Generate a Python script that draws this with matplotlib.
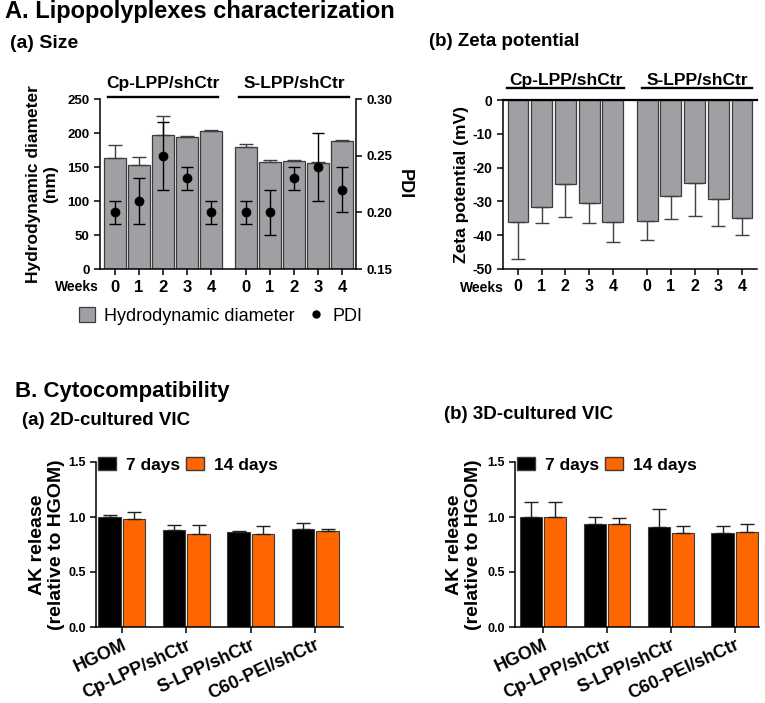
import numpy as np
import matplotlib
matplotlib.use('Agg')
import matplotlib.pyplot as plt
import matplotlib.transforms as mtransforms
from matplotlib.patches import Patch
from matplotlib.lines import Line2D
from matplotlib.ticker import FormatStrFormatter

plt.rcParams['font.family'] = ['Liberation Sans', 'DejaVu Sans']
plt.rcParams['axes.unicode_minus'] = False
plt.rcParams['axes.linewidth'] = 1.1
plt.rcParams['xtick.major.width'] = 1.1
plt.rcParams['ytick.major.width'] = 1.1
plt.rcParams['xtick.major.size'] = 4
plt.rcParams['ytick.major.size'] = 4

# ---------------- data
weeks = ['0', '1', '2', '3', '4']
groups = ['Cp-LPP/shCtr', 'S-LPP/shCtr']

# hydrodynamic diameter (nm), mean and SD
size_cp = [163, 153, 197, 194, 203]
size_cp_sd = [19, 12, 28, 2, 2]
size_s = [180, 158, 159, 156, 188]
size_s_sd = [4, 2, 2, 1, 2]

# PDI
pdi_cp = [0.20, 0.21, 0.25, 0.23, 0.20]
pdi_cp_sd = [0.01, 0.02, 0.03, 0.01, 0.01]
pdi_s = [0.20, 0.20, 0.23, 0.24, 0.22]
pdi_s_sd = [0.01, 0.02, 0.01, 0.03, 0.02]

# zeta potential (mV)
zeta_cp = [-36.2, -31.8, -24.9, -30.5, -36.1]
zeta_cp_sd = [10.9, 4.7, 9.7, 6.0, 5.8]
zeta_s = [-35.9, -28.5, -24.6, -29.4, -34.9]
zeta_s_sd = [5.4, 6.8, 9.8, 7.9, 4.9]

# AK release relative to HGOM
treatments = ['HGOM', 'Cp-LPP/shCtr', 'S-LPP/shCtr', 'C60-PEI/shCtr']
ak2d_7 = [1.00, 0.88, 0.865, 0.895]
ak2d_7_sd = [0.02, 0.05, 0.01, 0.05]
ak2d_14 = [0.985, 0.85, 0.85, 0.87]
ak2d_14_sd = [0.065, 0.08, 0.065, 0.025]
ak3d_7 = [1.00, 0.935, 0.905, 0.855]
ak3d_7_sd = [0.135, 0.065, 0.17, 0.065]
ak3d_14 = [1.00, 0.94, 0.855, 0.86]
ak3d_14_sd = [0.135, 0.055, 0.065, 0.075]

GRAY = '#a0a0a4'
EDGE = '#3c3c3c'
ORANGE = '#ff6600'

W, H = 765, 703
fig = plt.figure(figsize=(W / 100, H / 100), dpi=100)


def px_axes(x0, y0, x1, y1):
    return fig.add_axes([x0 / W, 1 - y1 / H, (x1 - x0) / W, (y1 - y0) / H])


def title(x, y, s, size):
    fig.text(x / W, 1 - y / H, s, fontsize=size, fontweight='bold', ha='left', va='baseline')


def group_label(ax, x0, x1, yl, yt, s):
    tr = mtransforms.blended_transform_factory(ax.transData, ax.transAxes)
    ax.plot([x0, x1], [yl, yl], color='black', lw=1.7, transform=tr, clip_on=False)
    ax.text((x0 + x1) / 2, yt, s, transform=tr, ha='center', va='center',
            fontsize=12.5, fontweight='bold')


def bold_ticks(ax, xs, ys):
    for lab in ax.get_xticklabels():
        lab.set_fontweight('bold')
        lab.set_fontsize(xs)
    for lab in ax.get_yticklabels():
        lab.set_fontweight('bold')
        lab.set_fontsize(ys)


title(5, 18, 'A. Lipopolyplexes characterization', 17)
title(10, 47.5, '(a) Size', 14)
title(429, 46.5, '(b) Zeta potential', 13.5)
title(15, 396.5, 'B. Cytocompatibility', 16)
title(22, 425, '(a) 2D-cultured VIC', 13.5)
title(444, 419, '(b) 3D-cultured VIC', 13.5)

xpos = np.r_[np.arange(5), np.arange(5) + 5.45]
n = len(xpos)

# ---------------- A(a) size + PDI
ax1 = px_axes(100, 99, 356, 269)
size = np.r_[size_cp, size_s]
size_sd = np.r_[size_cp_sd, size_s_sd]
ax1.bar(xpos, size, width=0.9, color=GRAY, edgecolor=EDGE, linewidth=0.9,
        yerr=[np.zeros(n), size_sd], capsize=5,
        error_kw=dict(ecolor='#404040', elinewidth=1.0, capthick=1.0))
ax1.set_xlim(-0.625, 10.03)
ax1.set_ylim(0, 250)
ax1.set_yticks(range(0, 251, 50))
ax1.set_xticks(xpos)
ax1.set_xticklabels(weeks * 2)
ax1.tick_params(axis='x', pad=4)
ax1.spines['top'].set_visible(False)
ax1.spines['right'].set_visible(False)
bold_ticks(ax1, 12, 9.5)
ax1.set_ylabel('Hydrodynamic diameter\n(nm)', fontsize=12.5, fontweight='bold',
               va='center', linespacing=1.15)
ax1.yaxis.set_label_coords(-0.225, 0.5)
ax1.text(-0.005, -0.105, 'Weeks', transform=ax1.transAxes, ha='right', va='center',
         fontsize=10, fontweight='bold')

ax2 = ax1.twinx()
ax2.errorbar(xpos, np.r_[pdi_cp, pdi_s], yerr=np.r_[pdi_cp_sd, pdi_s_sd], fmt='o',
             color='black', ms=6, capsize=4.5, elinewidth=1.0, capthick=1.0)
ax2.set_ylim(0.15, 0.30)
ax2.set_yticks([0.15, 0.20, 0.25, 0.30])
ax2.yaxis.set_major_formatter(FormatStrFormatter('%.2f'))
for sp in ['top', 'left', 'bottom']:
    ax2.spines[sp].set_visible(False)
bold_ticks(ax2, 12, 9.5)
ax2.set_ylabel('PDI', fontsize=13, fontweight='bold', rotation=270, va='center')
ax2.yaxis.set_label_coords(1.19, 0.5)

group_label(ax1, -0.3, 4.3, 1.0135, 1.092, groups[0])
group_label(ax1, 5.15, 9.75, 1.0135, 1.092, groups[1])

handles = [Patch(facecolor=GRAY, edgecolor=EDGE, linewidth=0.9),
           Line2D([], [], marker='o', color='black', ls='none', ms=5)]
ax1.legend(handles, ['Hydrodynamic diameter', 'PDI'], loc='center', ncol=2,
           bbox_to_anchor=(0.473, -0.276), frameon=False, fontsize=13,
           handlelength=0.9, handleheight=0.9, handletextpad=0.5, columnspacing=0.7,
           borderpad=0)

# ---------------- A(b) zeta
ax3 = px_axes(503, 100, 757, 269)
zeta = np.r_[zeta_cp, zeta_s]
zeta_sd = np.r_[zeta_cp_sd, zeta_s_sd]
ax3.bar(xpos, zeta, width=0.88, color=GRAY, edgecolor=EDGE, linewidth=0.9,
        yerr=[zeta_sd, np.zeros(n)], capsize=5,
        error_kw=dict(ecolor='#404040', elinewidth=1.0, capthick=1.0))
ax3.set_xlim(-0.63, 10.08)
ax3.set_ylim(-50, 0)
ax3.set_yticks(range(-50, 1, 10))
ax3.set_xticks(xpos)
ax3.set_xticklabels(weeks * 2)
ax3.spines['right'].set_visible(False)
ax3.spines['top'].set_linewidth(1.6)
bold_ticks(ax3, 11.5, 10)
ax3.set_ylabel('Zeta potential (mV)', fontsize=12.5, fontweight='bold', va='center')
ax3.yaxis.set_label_coords(-0.162, 0.5)
ax3.text(0.005, -0.11, 'Weeks', transform=ax3.transAxes, ha='right', va='center',
         fontsize=10, fontweight='bold')
group_label(ax3, -0.45, 4.47, 1.071, 1.118, groups[0])
group_label(ax3, 5.23, 9.87, 1.071, 1.118, groups[1])


# ---------------- B AK release
def ak_panel(ax, v7, s7, v14, s14, label_x, xlim):
    x = np.arange(len(treatments))
    ax.bar(x - 0.19, v7, width=0.35, color='black', edgecolor='#3a3a3a', linewidth=0.8,
           yerr=[np.zeros(len(x)), s7], capsize=5,
           error_kw=dict(ecolor='#202020', elinewidth=1.0, capthick=1.0))
    ax.bar(x + 0.19, v14, width=0.35, color=ORANGE, edgecolor='#3a3a3a', linewidth=0.8,
           yerr=[np.zeros(len(x)), s14], capsize=5,
           error_kw=dict(ecolor='#202020', elinewidth=1.0, capthick=1.0))
    ax.set_xlim(*xlim)
    ax.set_ylim(0, 1.5)
    ax.set_yticks([0, 0.5, 1.0, 1.5])
    ax.yaxis.set_major_formatter(FormatStrFormatter('%.1f'))
    ax.set_xticks(x)
    ax.set_xticklabels(treatments, rotation=25, ha='right', va='top',
                       rotation_mode='anchor')
    ax.tick_params(axis='x', pad=3)
    ax.spines['top'].set_visible(False)
    ax.spines['right'].set_visible(False)
    bold_ticks(ax, 13, 9)
    ax.set_ylabel('AK release\n(relative to HGOM)', fontsize=14, fontweight='bold',
                  va='center', linespacing=1.1)
    ax.yaxis.set_label_coords(label_x, 0.5)
    hs = [Patch(facecolor='black', edgecolor='#3a3a3a'),
          Patch(facecolor=ORANGE, edgecolor='#3a3a3a')]
    ax.legend(hs, ['7 days', '14 days'], loc='upper left', bbox_to_anchor=(0.01, 1.03),
              ncol=2, frameon=False, borderpad=0, borderaxespad=0,
              prop=dict(size=12.5, weight='bold'), handlelength=1.0, handleheight=0.8,
              handletextpad=0.6, columnspacing=0.35)


ax4 = px_axes(96, 462, 343, 627)
ak_panel(ax4, ak2d_7, ak2d_7_sd, ak2d_14, ak2d_14_sd, -0.198, (-0.4, 3.43))
ax5 = px_axes(515, 462, 759, 627)
ak_panel(ax5, ak3d_7, ak3d_7_sd, ak3d_14, ak3d_14_sd, -0.209, (-0.44, 3.38))

fig.savefig('out.png', dpi=100)
